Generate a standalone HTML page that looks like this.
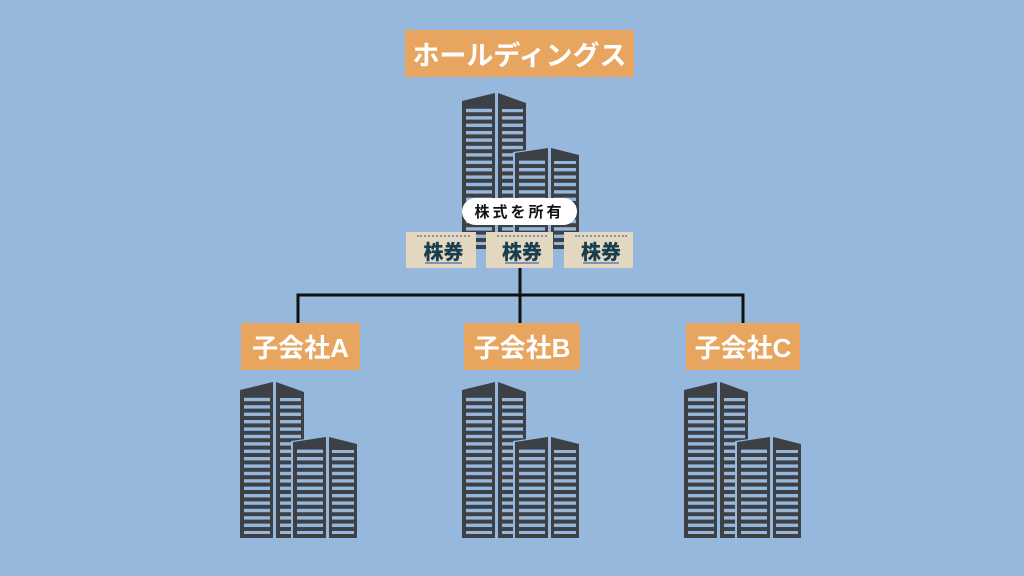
<!DOCTYPE html>
<html><head><meta charset="utf-8"><style>
body{margin:0;width:1024px;height:576px;background:#97b8dd;overflow:hidden;position:relative;font-family:"Liberation Sans","Noto Sans CJK JP",sans-serif}
.lb{position:absolute;background:#e8a55f;color:#fff;font-weight:bold;display:flex;align-items:center;justify-content:center;white-space:nowrap}
.tk{position:absolute;background:#e3d7c0;color:#173f4f;font-weight:900;font-size:20px;display:flex;align-items:center;justify-content:center;top:232px;height:36px;letter-spacing:0px;border-left:5px solid #e3d7c0;box-sizing:border-box}
.tk:before{content:"";position:absolute;left:6px;right:6px;top:3px;height:3px;border-top:2px dotted #7f93b8}
.tk:after{content:"";position:absolute;left:14px;right:14px;bottom:4px;height:2px;background:#7f93b8}
svg{position:absolute;left:0;top:0}
</style></head><body>
<svg width="1024" height="576">
<defs>
<pattern id="w" width="10" height="7.4" patternUnits="userSpaceOnUse"><rect width="10" height="3.4" y="1" fill="#97b8dd"/></pattern>
<g id="b">
<polygon points="0,8 33,0 33,156 0,156" fill="#3d4044"/>
<polygon points="36,0 64,10 64,156 36,156" fill="#3d4044"/>
<rect x="4" y="14" width="26" height="138" fill="url(#w)"/>
<rect x="40" y="16" width="21" height="136" fill="url(#w)"/>
<polygon points="51,59 86,54 86,156 51,156" fill="#97b8dd"/>
<polygon points="53,60 86,55 86,156 53,156" fill="#3d4044"/>
<polygon points="89,55 117,62 117,156 89,156" fill="#3d4044"/>
<rect x="57" y="67" width="26" height="85" fill="url(#w)"/>
<rect x="92" y="68" width="22" height="84" fill="url(#w)"/>
</g>
</defs>
<use href="#b" x="462" y="93"/>
<use href="#b" x="240" y="382"/>
<use href="#b" x="462" y="382"/>
<use href="#b" x="684" y="382"/>
<g stroke="#111" stroke-width="3" fill="none">
<line x1="520" y1="266" x2="520" y2="295"/>
<polyline points="298,323 298,295 743,295 743,323"/>
<line x1="520" y1="295" x2="520" y2="323"/>
</g>
</svg>
<div class="lb" style="left:405px;top:30px;width:229px;height:47px;font-size:27px">ホールディングス</div>
<div class="lb" style="left:241px;top:323px;width:119px;height:47px;font-size:26px">子会社A</div>
<div class="lb" style="left:464px;top:323px;width:116px;height:47px;font-size:26px">子会社B</div>
<div class="lb" style="left:686px;top:323px;width:114px;height:47px;font-size:26px">子会社C</div>
<div style="position:absolute;left:462px;top:198px;width:115px;height:27px;background:#fff;border-radius:14px;font-weight:bold;font-size:15px;letter-spacing:3px;display:flex;align-items:center;justify-content:center;color:#111">株式を所有</div>
<div class="tk" style="left:406px;width:70px">株券</div>
<div class="tk" style="left:486px;width:67px">株券</div>
<div class="tk" style="left:564px;width:69px">株券</div>
</body></html>
